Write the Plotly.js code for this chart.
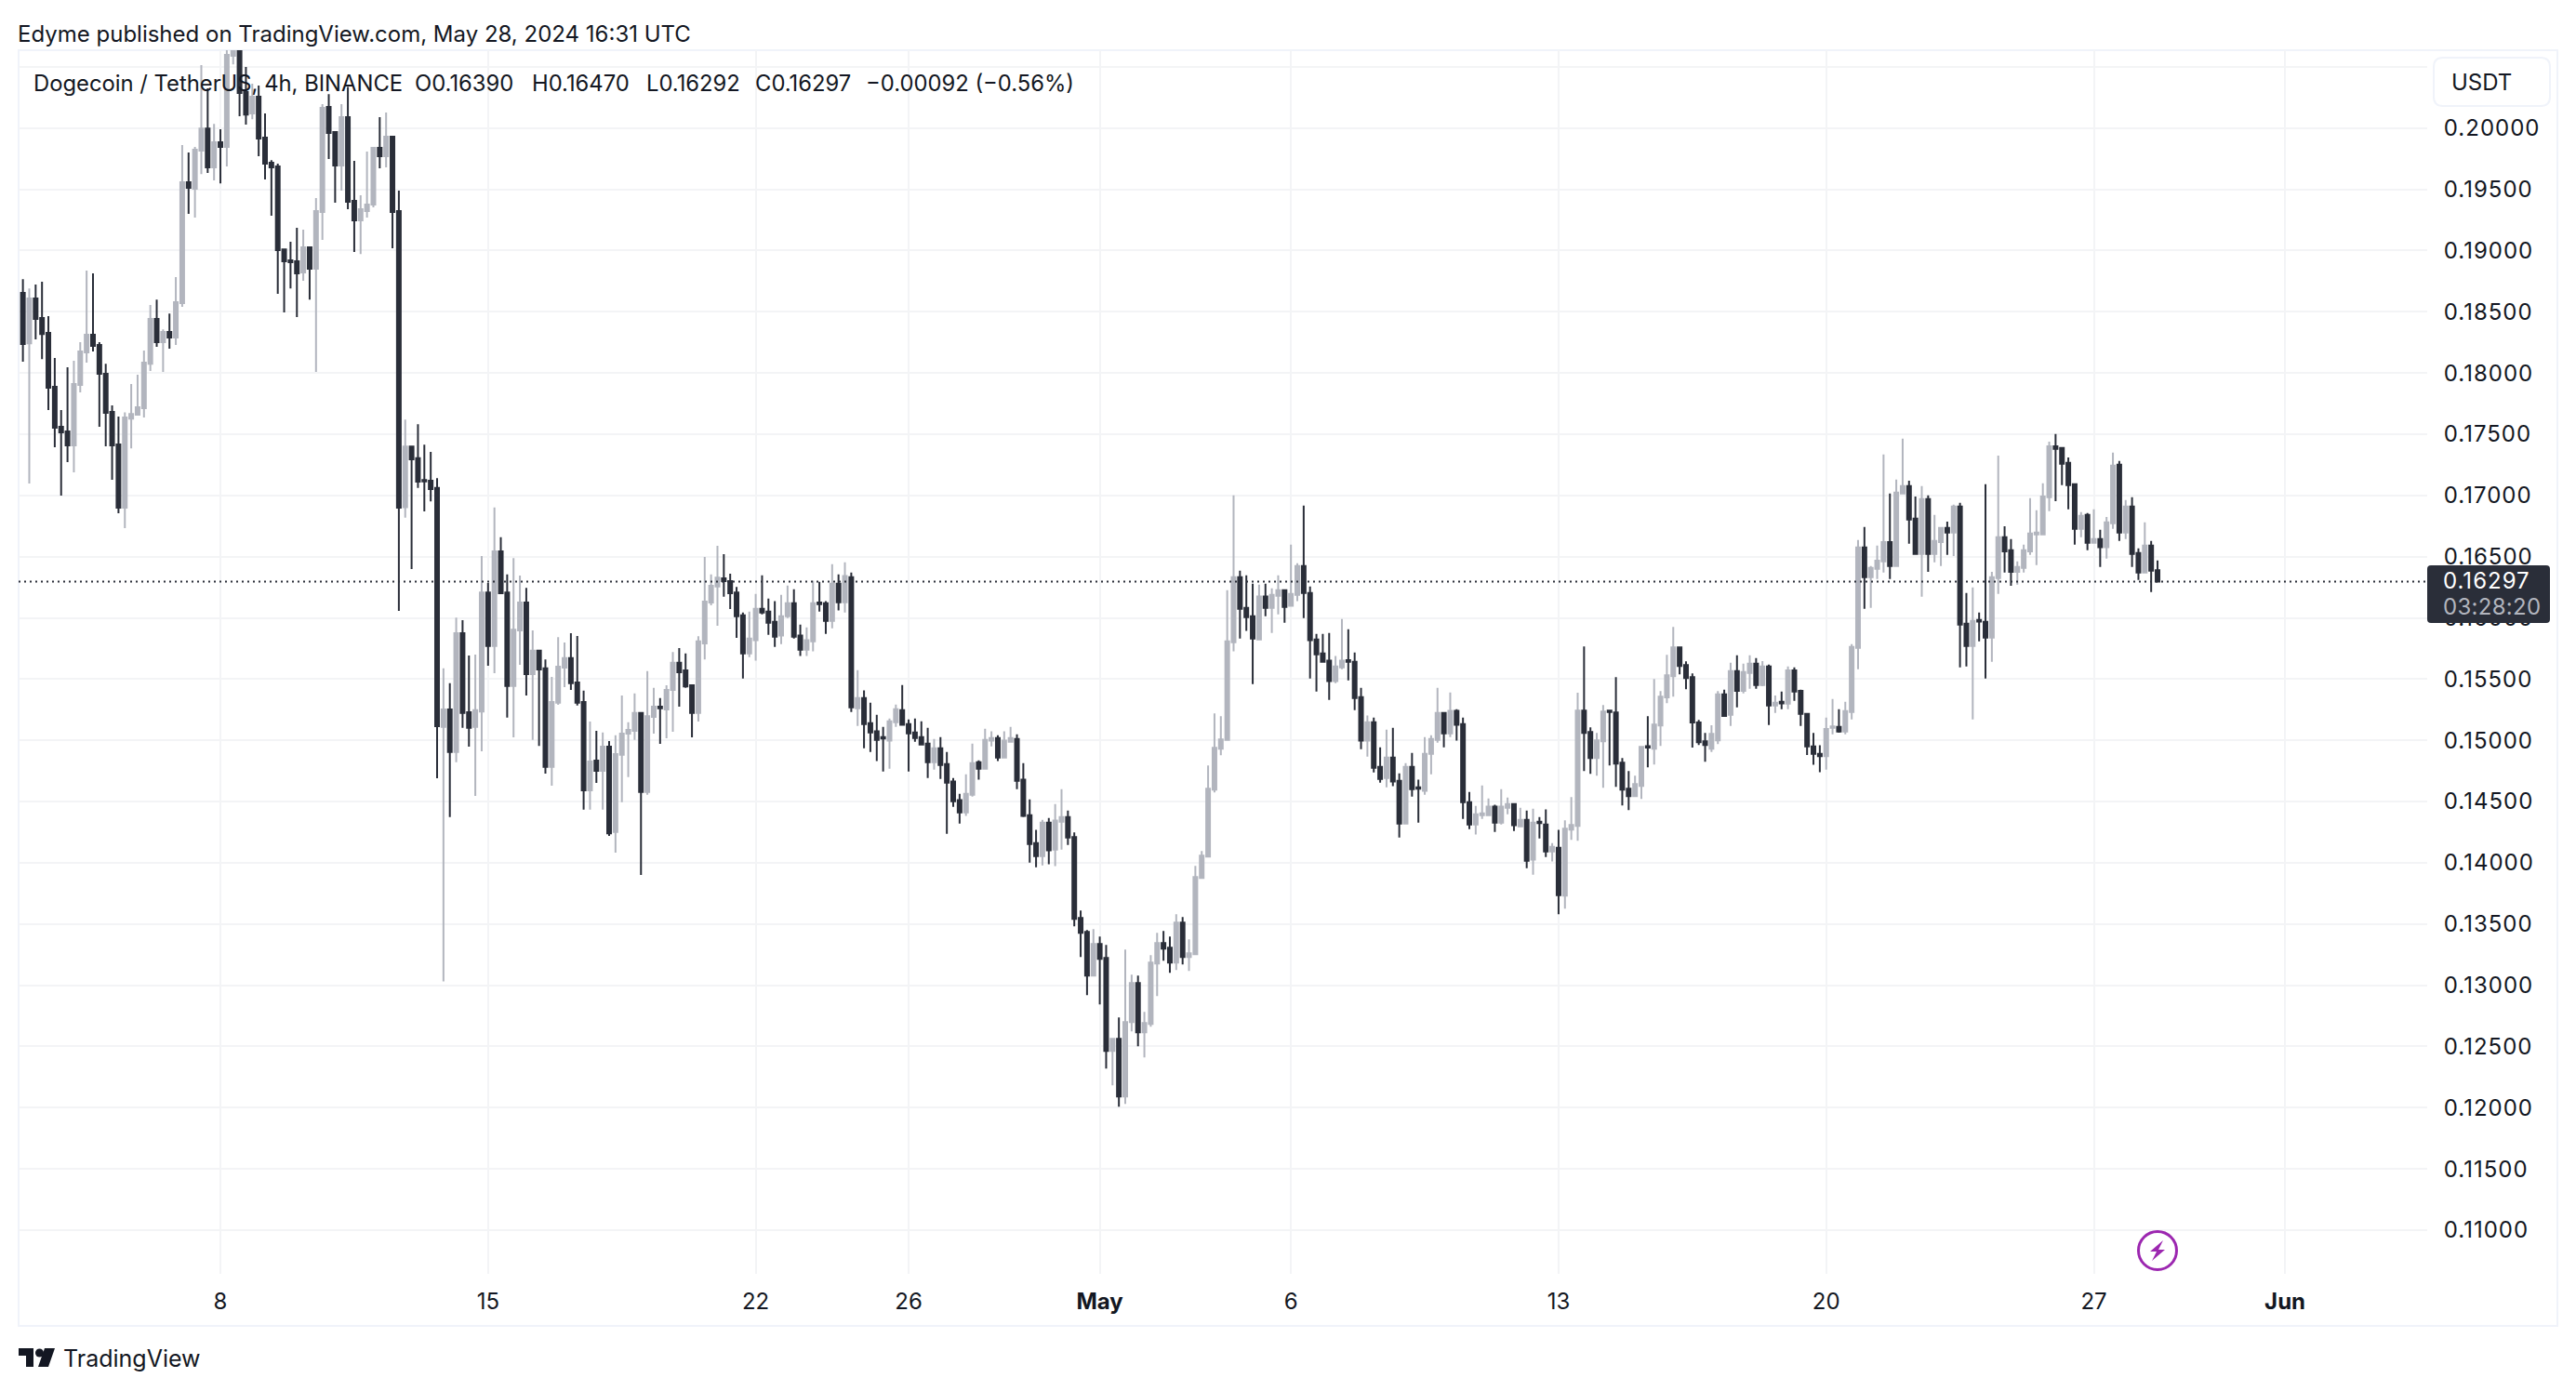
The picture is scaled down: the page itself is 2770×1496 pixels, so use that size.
<!DOCTYPE html>
<html>
<head>
<meta charset="utf-8">
<script src="https://cdn.plot.ly/plotly-3.0.1.min.js"></script>
<style>
html,body{margin:0;padding:0;background:#fff}#chart{width:2770px;height:1496px}
.ytick text{letter-spacing:1px}
.annotation[data-index="8"] text{letter-spacing:1px}
.annotation[data-index="9"] text{letter-spacing:.3px}
</style>
</head>
<body>
<div id="chart"></div>
<script>
const lastBar = Date.UTC(2024, 4, 28, 16, 0, 0);
const barHours = 4;
const open = [0.18654,0.18243,0.18608,0.18449,0.18327,0.17887,0.17560,0.17522,0.17408,0.17902,
0.18168,0.18312,0.18228,0.17993,0.17682,0.17416,0.16900,0.17628,0.17659,0.17712,
0.18076,0.18441,0.18251,0.18335,0.18289,0.18570,0.19557,0.19504,0.19815,0.19997,
0.19679,0.19884,0.19846,0.20590,0.20700,0.20294,0.20119,0.20256,0.19922,0.19717,
0.19686,0.19010,0.18919,0.18912,0.18821,0.19026,0.18851,0.19314,0.20172,0.19967,
0.19694,0.20089,0.19405,0.19246,0.19322,0.19375,0.19838,0.19770,0.19929,0.19322,
0.16904,0.17399,0.17304,0.17125,0.17121,0.17061,0.15109,0.15252,0.14904,0.15875,
0.15230,0.15109,0.15236,0.16208,0.15770,0.16543,0.16208,0.15444,0.15898,0.16125,
0.15540,0.15732,0.15588,0.14783,0.15307,0.15594,0.15671,0.15472,0.15313,0.14591,
0.14834,0.14751,0.14949,0.14252,0.14882,0.15054,0.15077,0.15224,0.14578,0.15192,
0.15275,0.15252,0.15412,0.15633,0.15572,0.15450,0.15224,0.15792,0.16125,0.16256,
0.16323,0.16300,0.16208,0.16022,0.15710,0.15817,0.16075,0.16052,0.15968,0.15855,
0.16014,0.16120,0.15855,0.15741,0.15809,0.16125,0.16120,0.15976,0.16280,0.16128,
0.16333,0.15262,0.15346,0.15141,0.15073,0.15027,0.14997,0.15148,0.15247,0.15133,
0.15065,0.15027,0.14974,0.14822,0.14936,0.14807,0.14663,0.14511,0.14412,0.14556,
0.14822,0.14769,0.14997,0.15019,0.14860,0.14989,0.15012,0.14678,0.14389,0.14161,
0.14055,0.14328,0.14108,0.14336,0.14374,0.14210,0.13550,0.13436,0.13079,0.13337,
0.13223,0.12464,0.12563,0.12092,0.12699,0.13018,0.12616,0.12684,0.13178,0.13345,
0.13307,0.13185,0.13512,0.13231,0.13254,0.13876,0.14051,0.14598,0.14932,0.15004,
0.15801,0.16333,0.16082,0.16014,0.15824,0.16174,0.16082,0.16181,0.16227,0.16098,
0.16189,0.16424,0.16204,0.15824,0.15710,0.15650,0.15483,0.15596,0.15655,0.15642,
0.15353,0.14997,0.15148,0.14784,0.14693,0.14860,0.14670,0.14321,0.14784,0.14617,
0.14587,0.14890,0.15004,0.15224,0.15057,0.15240,0.15133,0.14495,0.14313,0.14389,
0.14389,0.14458,0.14328,0.14450,0.14480,0.14298,0.14351,0.14025,0.14336,0.14313,
0.14093,0.14123,0.13732,0.14271,0.14302,0.15243,0.15069,0.14856,0.14993,0.15243,
0.15228,0.14818,0.14605,0.14545,0.14628,0.14952,0.14932,0.15122,0.15350,0.15524,
0.15760,0.15615,0.15517,0.15145,0.14993,0.14932,0.15000,0.15375,0.15208,0.15565,
0.15405,0.15550,0.15626,0.15451,0.15603,0.15284,0.15314,0.15299,0.15572,0.15405,
0.15216,0.14950,0.14890,0.14870,0.15102,0.15109,0.15071,0.15231,0.15755,0.16575,
0.16332,0.16400,0.16461,0.16620,0.16423,0.17015,0.17076,0.16810,0.16522,0.16970,
0.16522,0.16620,0.16734,0.16696,0.16909,0.15952,0.15770,0.15983,0.15967,0.15838,
0.16324,0.16658,0.16552,0.16377,0.16408,0.16544,0.16681,0.16681,0.16985,0.17402,
0.17387,0.17266,0.17091,0.16727,0.16841,0.16613,0.16643,0.16577,0.16772,0.17251,
0.16696,0.16909,0.16529,0.16370,0.16590,0.16390];
const high = [0.18767,0.18691,0.18722,0.18745,0.18464,0.18122,0.17697,0.18046,0.18099,0.18251,
0.18836,0.18813,0.18251,0.18076,0.17735,0.17644,0.17679,0.17909,0.17985,0.18183,
0.18555,0.18600,0.18357,0.18486,0.18783,0.19861,0.19800,0.19846,0.20514,0.20324,
0.20035,0.19990,0.20650,0.20800,0.20800,0.20499,0.20362,0.20347,0.20119,0.19739,
0.19709,0.19010,0.19071,0.19185,0.19170,0.19033,0.19428,0.20195,0.20278,0.19967,
0.20195,0.20337,0.19732,0.19451,0.19808,0.19838,0.20089,0.20127,0.19937,0.19489,
0.17620,0.17399,0.17581,0.17415,0.17355,0.17141,0.15588,0.15466,0.16003,0.15981,
0.15693,0.15700,0.16505,0.16284,0.16901,0.16658,0.16355,0.16489,0.16345,0.16246,
0.15898,0.15732,0.15661,0.15518,0.15843,0.15799,0.15875,0.15853,0.15406,0.15153,
0.15077,0.15064,0.14994,0.15041,0.15367,0.15147,0.15383,0.15230,0.15565,0.15428,
0.15345,0.15450,0.15722,0.15754,0.15709,0.15457,0.15850,0.16498,0.16355,0.16588,
0.16521,0.16361,0.16252,0.16044,0.16052,0.16196,0.16348,0.16158,0.16136,0.16189,
0.16265,0.16234,0.15946,0.15923,0.16303,0.16295,0.16136,0.16439,0.16356,0.16454,
0.16371,0.15574,0.15407,0.15308,0.15209,0.15110,0.15179,0.15293,0.15452,0.15171,
0.15179,0.15156,0.15103,0.15012,0.15027,0.14905,0.14693,0.14564,0.14723,0.14974,
0.14837,0.15095,0.15073,0.15042,0.15073,0.15110,0.15050,0.14814,0.14518,0.14268,
0.14351,0.14366,0.14480,0.14602,0.14427,0.14248,0.13610,0.13451,0.13459,0.13398,
0.13330,0.12570,0.12737,0.13292,0.13087,0.13079,0.12783,0.13246,0.13428,0.13443,
0.13398,0.13580,0.13557,0.13375,0.13975,0.14096,0.14795,0.15220,0.15197,0.16227,
0.17001,0.16386,0.16348,0.16280,0.16272,0.16280,0.16242,0.16348,0.16227,0.16599,
0.16447,0.16918,0.16257,0.15870,0.15870,0.15877,0.15688,0.15991,0.15908,0.15718,
0.15429,0.15202,0.15186,0.14943,0.15088,0.15103,0.14731,0.14814,0.14898,0.14678,
0.15027,0.15042,0.15429,0.15224,0.15391,0.15255,0.15186,0.14579,0.14465,0.14632,
0.14526,0.14473,0.14602,0.14533,0.14480,0.14450,0.14427,0.14442,0.14374,0.14435,
0.14161,0.14268,0.14347,0.14537,0.15388,0.15767,0.15107,0.15061,0.15289,0.15251,
0.15517,0.14856,0.14750,0.14712,0.14955,0.15198,0.15501,0.15403,0.15699,0.15927,
0.15767,0.15646,0.15547,0.15167,0.15061,0.15124,0.15403,0.15413,0.15633,0.15694,
0.15626,0.15694,0.15671,0.15648,0.15618,0.15367,0.15398,0.15603,0.15595,0.15413,
0.15223,0.15061,0.14960,0.15185,0.15337,0.15254,0.15314,0.15785,0.16636,0.16742,
0.16423,0.16590,0.17334,0.17015,0.17129,0.17463,0.17121,0.16992,0.17076,0.17000,
0.16841,0.16734,0.16787,0.16924,0.16939,0.16203,0.16248,0.16043,0.17091,0.16377,
0.17326,0.16749,0.16643,0.16461,0.16598,0.16977,0.16879,0.17099,0.17440,0.17501,
0.17387,0.17311,0.17091,0.16863,0.16856,0.16886,0.16719,0.16825,0.17349,0.17281,
0.16962,0.16985,0.16567,0.16780,0.16628,0.16470];
const low = [0.18092,0.17097,0.18274,0.18114,0.17697,0.17393,0.16998,0.17272,0.17188,0.17841,
0.18084,0.18175,0.17560,0.17401,0.17127,0.16854,0.16733,0.17385,0.17659,0.17636,
0.18016,0.18213,0.18008,0.18198,0.18228,0.18540,0.19299,0.19269,0.19625,0.19633,
0.19572,0.19549,0.19686,0.20521,0.20096,0.20028,0.20073,0.19770,0.19580,0.19284,
0.18646,0.18494,0.18691,0.18456,0.18752,0.18600,0.18008,0.19086,0.19747,0.19390,
0.19489,0.19337,0.18988,0.18972,0.19269,0.19352,0.19671,0.19679,0.19018,0.16057,
0.16818,0.16399,0.17061,0.16869,0.16952,0.14690,0.13032,0.14374,0.14821,0.15102,
0.14949,0.14546,0.14910,0.15610,0.15549,0.16195,0.15185,0.15025,0.15617,0.15367,
0.15003,0.14955,0.14728,0.14629,0.15291,0.15434,0.15412,0.15284,0.14434,0.14434,
0.14652,0.14434,0.14220,0.14083,0.14495,0.14700,0.15003,0.13901,0.14556,0.15054,
0.14971,0.15016,0.15070,0.15275,0.15428,0.15025,0.15153,0.15661,0.16102,0.15936,
0.16172,0.16073,0.15837,0.15505,0.15680,0.15650,0.16029,0.15862,0.15763,0.15786,
0.15999,0.15832,0.15688,0.15688,0.15726,0.16052,0.15870,0.15915,0.16060,0.16044,
0.15232,0.15118,0.14936,0.14905,0.14830,0.14746,0.14769,0.15110,0.15126,0.14746,
0.14989,0.14966,0.14693,0.14761,0.14685,0.14237,0.14457,0.14321,0.14382,0.14541,
0.14678,0.14761,0.14951,0.14830,0.14852,0.14989,0.14602,0.14374,0.14002,0.13964,
0.13979,0.13987,0.13972,0.14108,0.14146,0.13481,0.13231,0.12920,0.13079,0.12844,
0.12320,0.12183,0.12008,0.12031,0.12623,0.12502,0.12411,0.12661,0.12912,0.13200,
0.13102,0.13125,0.13170,0.13117,0.13246,0.13876,0.14043,0.14575,0.14879,0.15004,
0.15726,0.15832,0.15893,0.15460,0.15824,0.16014,0.15877,0.16029,0.15961,0.16098,
0.16136,0.15999,0.15505,0.15399,0.15634,0.15331,0.15467,0.15581,0.15490,0.15247,
0.14928,0.14867,0.14738,0.14655,0.14617,0.14625,0.14207,0.14313,0.14541,0.14328,
0.14556,0.14723,0.14981,0.14943,0.15027,0.14997,0.14359,0.14275,0.14230,0.14359,
0.14389,0.14252,0.14313,0.14397,0.14260,0.14290,0.13956,0.13903,0.14199,0.14047,
0.14010,0.13580,0.13626,0.14188,0.14180,0.14750,0.14727,0.14712,0.14613,0.14795,
0.14621,0.14469,0.14431,0.14545,0.14522,0.14780,0.14803,0.14955,0.15304,0.15357,
0.15539,0.15418,0.14940,0.14962,0.14826,0.14905,0.14970,0.15193,0.15117,0.15269,
0.15383,0.15421,0.15421,0.15443,0.15125,0.15223,0.15254,0.15254,0.15322,0.15117,
0.14880,0.14800,0.14740,0.14760,0.15050,0.15063,0.15049,0.15170,0.15580,0.16074,
0.16081,0.16317,0.16370,0.16317,0.16415,0.17008,0.16605,0.16522,0.16172,0.16377,
0.16453,0.16423,0.16514,0.16506,0.15595,0.15603,0.15170,0.15808,0.15504,0.15641,
0.16195,0.16370,0.16263,0.16271,0.16370,0.16514,0.16431,0.16681,0.16871,0.16954,
0.17084,0.16886,0.16598,0.16658,0.16552,0.16613,0.16415,0.16484,0.16727,0.16628,
0.16643,0.16415,0.16309,0.16370,0.16210,0.16292];
const close = [0.18236,0.18608,0.18441,0.18319,0.17879,0.17553,0.17515,0.17408,0.17909,0.18175,
0.18312,0.18221,0.17993,0.17674,0.17408,0.16900,0.17636,0.17666,0.17720,0.18084,
0.18441,0.18251,0.18335,0.18289,0.18578,0.19557,0.19512,0.19823,0.19997,0.19679,
0.19884,0.19846,0.20598,0.20700,0.20286,0.20111,0.20256,0.19914,0.19709,0.19679,
0.19003,0.18912,0.18904,0.18813,0.19026,0.18851,0.19322,0.20165,0.19960,0.19694,
0.20089,0.19398,0.19246,0.19337,0.19375,0.19838,0.19770,0.19929,0.19314,0.16900,
0.17399,0.17294,0.17112,0.17115,0.17051,0.15115,0.15252,0.14904,0.15875,0.15224,
0.15102,0.15246,0.16208,0.15770,0.16543,0.16201,0.15444,0.15904,0.16125,0.15540,
0.15732,0.15578,0.14783,0.15313,0.15601,0.15671,0.15466,0.15307,0.14591,0.14827,
0.14751,0.14949,0.14240,0.14888,0.15054,0.15086,0.15224,0.14578,0.15198,0.15275,
0.15262,0.15412,0.15633,0.15556,0.15441,0.15224,0.15808,0.16134,0.16262,0.16329,
0.16300,0.16201,0.16013,0.15710,0.15832,0.16075,0.16044,0.15961,0.15847,0.16014,
0.16120,0.15847,0.15741,0.15817,0.16120,0.16113,0.15976,0.16280,0.16128,0.16341,
0.15270,0.15346,0.15133,0.15065,0.15004,0.15014,0.15156,0.15255,0.15126,0.15057,
0.15019,0.14966,0.14822,0.14936,0.14799,0.14655,0.14503,0.14412,0.14564,0.14814,
0.14769,0.15004,0.15019,0.14860,0.14997,0.15019,0.14670,0.14382,0.14154,0.14055,
0.14328,0.14101,0.14344,0.14374,0.14207,0.13542,0.13428,0.13079,0.13337,0.13216,
0.12464,0.12563,0.12092,0.12699,0.13018,0.12616,0.12692,0.13185,0.13345,0.13299,
0.13185,0.13512,0.13231,0.13261,0.13884,0.14058,0.14605,0.14939,0.15008,0.15809,
0.16333,0.16075,0.16006,0.15832,0.16174,0.16082,0.16189,0.16227,0.16090,0.16196,
0.16424,0.16204,0.15817,0.15703,0.15642,0.15483,0.15604,0.15650,0.15642,0.15346,
0.14997,0.15148,0.14776,0.14685,0.14860,0.14663,0.14321,0.14784,0.14602,0.14604,
0.14890,0.15012,0.15224,0.15057,0.15240,0.15126,0.14495,0.14313,0.14397,0.14404,
0.14458,0.14328,0.14458,0.14480,0.14306,0.14351,0.14017,0.14328,0.14323,0.14093,
0.14131,0.13736,0.14279,0.14309,0.15243,0.15061,0.14856,0.15000,0.15236,0.15231,
0.14810,0.14598,0.14545,0.14643,0.14947,0.14940,0.15129,0.15357,0.15532,0.15760,
0.15608,0.15509,0.15145,0.14985,0.14962,0.15053,0.15375,0.15200,0.15565,0.15405,
0.15557,0.15626,0.15451,0.15603,0.15284,0.15307,0.15302,0.15572,0.15398,0.15216,
0.14950,0.14890,0.14870,0.15092,0.15114,0.15071,0.15238,0.15762,0.16575,0.16332,
0.16408,0.16468,0.16620,0.16423,0.17023,0.17076,0.16803,0.16522,0.16970,0.16522,
0.16628,0.16734,0.16696,0.16909,0.15945,0.15770,0.15975,0.15970,0.15838,0.16332,
0.16658,0.16544,0.16377,0.16415,0.16552,0.16689,0.16696,0.16992,0.17402,0.17380,
0.17258,0.17084,0.16727,0.16833,0.16613,0.16643,0.16577,0.16780,0.17243,0.16696,
0.16909,0.16522,0.16370,0.16590,0.16385,0.16297];

const lastPrice = 0.16297;
const priceTicks = [0.205,0.2,0.195,0.19,0.185,0.18,0.175,0.17,0.165,0.16,0.155,0.15,0.145,0.14,0.135,0.13,0.125,0.12,0.115,0.11];
const dateTicks = ['2024-04-08','2024-04-15','2024-04-22','2024-04-26','2024-05-01','2024-05-06','2024-05-13','2024-05-20','2024-05-27','2024-06-01'];
const dateLabels = ['8','15','22','26','<b>May</b>','6','13','20','27','<b>Jun</b>'];

const INK = '#131722', DOWN = '#2a2e39', UP = '#b2b5be', GRID = '#f3f4f6', EDGE = '#f0f3fa';
const FONT = 'Inter, "Noto Sans", sans-serif';
const W = 2770, H = 1496, L = 20, R = 2610, T = 54, B = 1370;
const px = x => (x - L) / (R - L);
const py = y => 1 - (y - T) / (B - T);
const P = (x, y) => px(x) + ',' + py(y);

function roundRect(x0, y0, x1, y1, r) {
  return 'M' + P(x0 + r, y0) + ' L' + P(x1 - r, y0) + ' Q' + P(x1, y0) + ' ' + P(x1, y0 + r) +
    ' L' + P(x1, y1 - r) + ' Q' + P(x1, y1) + ' ' + P(x1 - r, y1) +
    ' L' + P(x0 + r, y1) + ' Q' + P(x0, y1) + ' ' + P(x0, y1 - r) +
    ' L' + P(x0, y0 + r) + ' Q' + P(x0, y0) + ' ' + P(x0 + r, y0) + ' Z';
}
function poly(pts) { return 'M' + pts.map(p => P(p[0], p[1])).join(' L') + ' Z'; }
function circle(cx, cy, r) {
  return {type: 'circle', xref: 'paper', yref: 'paper', x0: px(cx - r), x1: px(cx + r), y0: py(cy + r), y1: py(cy - r)};
}
function label(text, x, y, size, color, anchor) {
  return {text, xref: 'paper', yref: 'paper', x: px(x), y: py(y), xanchor: anchor || 'left', yanchor: 'middle',
    showarrow: false, align: 'left', borderpad: 0, font: {family: FONT, size, color}};
}

const dates = open.map((_, i) =>
  new Date(lastBar - (open.length - 1 - i) * barHours * 3600000).toISOString().slice(0, 19));

const trace = {
  type: 'candlestick', x: dates, open, high, low, close,
  increasing: {line: {color: UP, width: 2}, fillcolor: UP},
  decreasing: {line: {color: DOWN, width: 2}, fillcolor: DOWN},
  whiskerwidth: 0, hoverinfo: 'skip', showlegend: false
};

const bolt = [[2326, 1334], [2312, 1346], [2319, 1346], [2314, 1356], [2328, 1344], [2321, 1344]];
const layout = {
  width: W, height: H, paper_bgcolor: '#fff', plot_bgcolor: '#fff', showlegend: false,
  boxmode: 'overlay', boxgap: 0.417, boxgroupgap: 0,
  margin: {l: L, r: W - R, t: T, b: H - B, pad: 0},
  xaxis: {
    type: 'date', range: ['2024-04-02T17:18:00', '2024-06-04T17:17:00'], rangeslider: {visible: false},
    tickmode: 'array', tickvals: dateTicks, ticktext: dateLabels,
    ticks: 'outside', ticklen: 8, tickcolor: 'rgba(0,0,0,0)', tickfont: {family: FONT, size: 24, color: INK},
    showgrid: true, gridcolor: GRID, gridwidth: 2, zeroline: false, showline: false, fixedrange: true
  },
  yaxis: {
    side: 'right', range: [0.10643, 0.20636], tickmode: 'array', tickvals: priceTicks,
    ticktext: priceTicks.map(v => v === 0.205 ? '' : v.toFixed(5)),
    ticks: 'outside', ticklen: 12, tickcolor: 'rgba(0,0,0,0)', tickfont: {family: FONT, size: 24, color: INK},
    showgrid: true, gridcolor: GRID, gridwidth: 2, zeroline: false, showline: false, fixedrange: true
  },
  shapes: [
    {type: 'rect', xref: 'paper', yref: 'paper', x0: px(20), x1: px(2750), y0: py(1426), y1: py(54), layer: 'below', line: {color: EDGE, width: 2}},
    {type: 'line', xref: 'paper', yref: 'y', x0: 0, x1: 1, y0: lastPrice, y1: lastPrice, layer: 'above', line: {color: DOWN, width: 2, dash: '2px,4px'}},
    {type: 'path', xref: 'paper', yref: 'paper', layer: 'above', path: roundRect(2617, 62, 2742, 114, 10), fillcolor: '#fff', line: {color: EDGE, width: 2}},
    {type: 'path', xref: 'paper', yref: 'paper', layer: 'above', path: roundRect(2610, 608, 2742, 670, 4), fillcolor: DOWN, line: {width: 0}},
    Object.assign(circle(2320, 1345, 20.5), {layer: 'above', fillcolor: 'rgba(0,0,0,0)', line: {color: '#9c27b0', width: 3}}),
    {type: 'path', xref: 'paper', yref: 'paper', layer: 'above', path: poly(bolt), fillcolor: '#9c27b0', line: {width: 0}},
    {type: 'path', xref: 'paper', yref: 'paper', layer: 'above', path: poly([[20, 1450], [36, 1450], [36, 1470], [28, 1470], [28, 1458], [20, 1458]]), fillcolor: INK, line: {width: 0}},
    Object.assign(circle(42.5, 1455, 4.5), {layer: 'above', fillcolor: INK, line: {width: 0}}),
    {type: 'path', xref: 'paper', yref: 'paper', layer: 'above', path: poly([[48, 1450], [59, 1450], [52, 1470], [41, 1470]]), fillcolor: INK, line: {width: 0}}
  ],
  annotations: [
    label('Edyme published on TradingView.com, May 28, 2024 16:31 UTC', 18, 36, 24, INK),
    label('Dogecoin / TetherUS, 4h, BINANCE', 35, 90, 23.8, INK),
    label('O0.16390', 445, 90, 23.8, INK),
    label('H0.16470', 571, 90, 23.8, INK),
    label('L0.16292', 694, 90, 23.8, INK),
    label('C0.16297', 811, 90, 23.8, INK),
    label('\u22120.00092 (\u22120.56%)', 930, 90, 23.8, INK),
    label('USDT', 2635, 88, 24, INK),
    label('0.16297', 2626, 625, 24, '#ffffff'),
    label('03:28:20', 2626, 652, 24, '#b2b5be'),
    label('TradingView', 67, 1461, 25, INK)
  ]
};
Plotly.newPlot('chart', [trace], layout, {staticPlot: true, displayModeBar: false});
</script>
</body>
</html>
